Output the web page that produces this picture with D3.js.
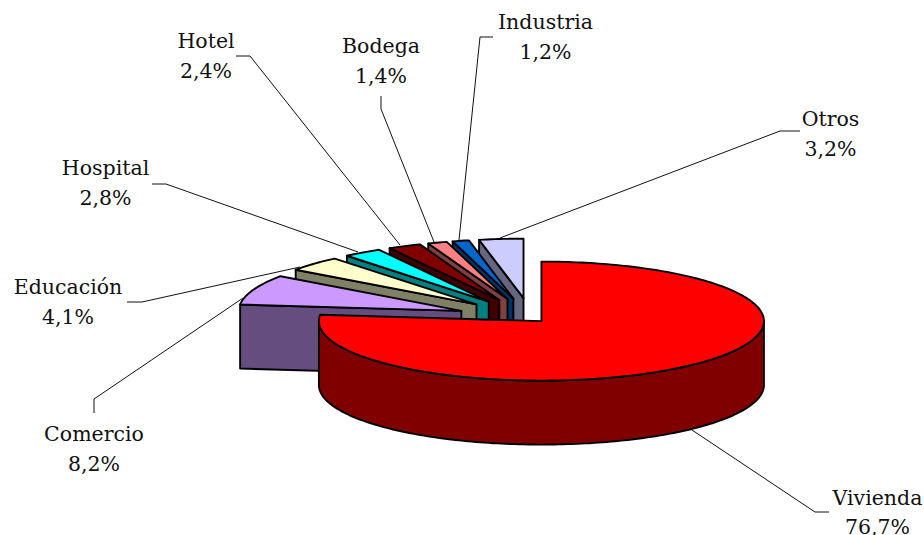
<!DOCTYPE html>
<html><head><meta charset="utf-8">
<script src="https://cdnjs.cloudflare.com/ajax/libs/d3/7.8.5/d3.min.js"></script>
<style>html,body{margin:0;background:#fff;overflow:hidden}svg{display:block}text{font-family:"DejaVu Serif",serif;font-size:20.5px;fill:#111}</style>
</head><body><svg id="c" width="924" height="535"></svg>
<script>
const categories=["Vivienda","Comercio","Educación","Hospital","Hotel","Bodega","Industria","Otros"];
const values=[76.7,8.2,4.1,2.8,2.4,1.4,1.2,3.2];
const valueLabels=["76,7%","8,2%","4,1%","2,8%","2,4%","1,4%","1,2%","3,2%"];
const topColors=["#FF0000","#CC99FF","#FFFFCC","#00FFFF","#800000","#FF8080","#0066CC","#CCCCFF"];
const sideColors=["#800000","#664D80","#808066","#008080","#400000","#804040","#003366","#666680"];
const explode=[0.07,0.335,0.335,0.335,0.335,0.335,0.335,0.335];
const labelPos=[[877.5,505],[94,441],[68,294],[105.5,175],[206,48],[381,53],[545.5,29],[830.5,126]];
const leaders=[
 [[692,430],[815,512],[829,512]],
 [[243,298],[94,399],[94,413]],
 [[300,267],[142,302],[127,302]],
 [[358,252],[166,184],[152,184]],
 [[400,245],[250,56],[236,56]],
 [[434,242],[381,109],[381,96]],
 [[459,240],[480,37],[493,37]],
 [[500,238],[780,131],[800,131]]];

const svg=d3.select("#c");
const C={x:531,y:318},rx=222.5,ry=59.5,depth=64;
const pie=d3.pie().sort(null).value(d=>d).startAngle(0).endAngle(2*Math.PI);
const arcs=pie(values);
const sx=d3.scaleLinear().domain([-1,1]).range([C.x-rx,C.x+rx]);
const sy=d3.scaleLinear().domain([-1,1]).range([C.y-ry,C.y+ry]);
const P=(a,r,o,dz)=>[sx(Math.sin(a)*r+o[0]),sy(-Math.cos(a)*r+o[1])+(dz||0)];
const line=d3.line();
const samples=(a0,a1)=>{const n=Math.max(2,Math.ceil((a1-a0)/0.02));return d3.range(n+1).map(i=>a0+(a1-a0)*i/n);};

arcs.map((d,i)=>({d,i})).reverse().forEach(({d,i})=>{
  const mid=(d.startAngle+d.endAngle)/2;
  const o=[Math.sin(mid)*explode[i],-Math.cos(mid)*explode[i]];
  const g=svg.append("g").attr("stroke","#000").attr("stroke-width",1.9).attr("stroke-linejoin","round");
  const a0=d.startAngle,a1=d.endAngle;
  const apex=P(0,0,o);
  if(Math.sin(a0)<0){
    g.append("path").attr("d",line([apex,P(a0,1,o),P(a0,1,o,depth),P(0,0,o,depth)])+"Z").attr("fill",sideColors[i]);
  }
  const f0=Math.max(a0,Math.PI/2),f1=Math.min(a1,3*Math.PI/2);
  if(f1>f0){
    const s=samples(f0,f1);
    const pts=s.map(a=>P(a,1,o)).concat(s.slice().reverse().map(a=>P(a,1,o,depth)));
    g.append("path").attr("d",line(pts)+"Z").attr("fill",sideColors[i]);
  }
  const top=[apex].concat(samples(a0,a1).map(a=>P(a,1,o)));
  g.append("path").attr("d",line(top)+"Z").attr("fill",topColors[i]);
});

leaders.forEach(l=>svg.append("path").attr("d",line(l)).attr("fill","none").attr("stroke","#111").attr("stroke-width",1));

categories.forEach((c,i)=>{
  const t=svg.append("text").attr("text-anchor","middle");
  t.append("tspan").attr("x",labelPos[i][0]).attr("y",labelPos[i][1]).text(c);
  t.append("tspan").attr("x",labelPos[i][0]).attr("y",labelPos[i][1]+(i===0?29:30)).text(valueLabels[i]);
});
</script></body></html>
